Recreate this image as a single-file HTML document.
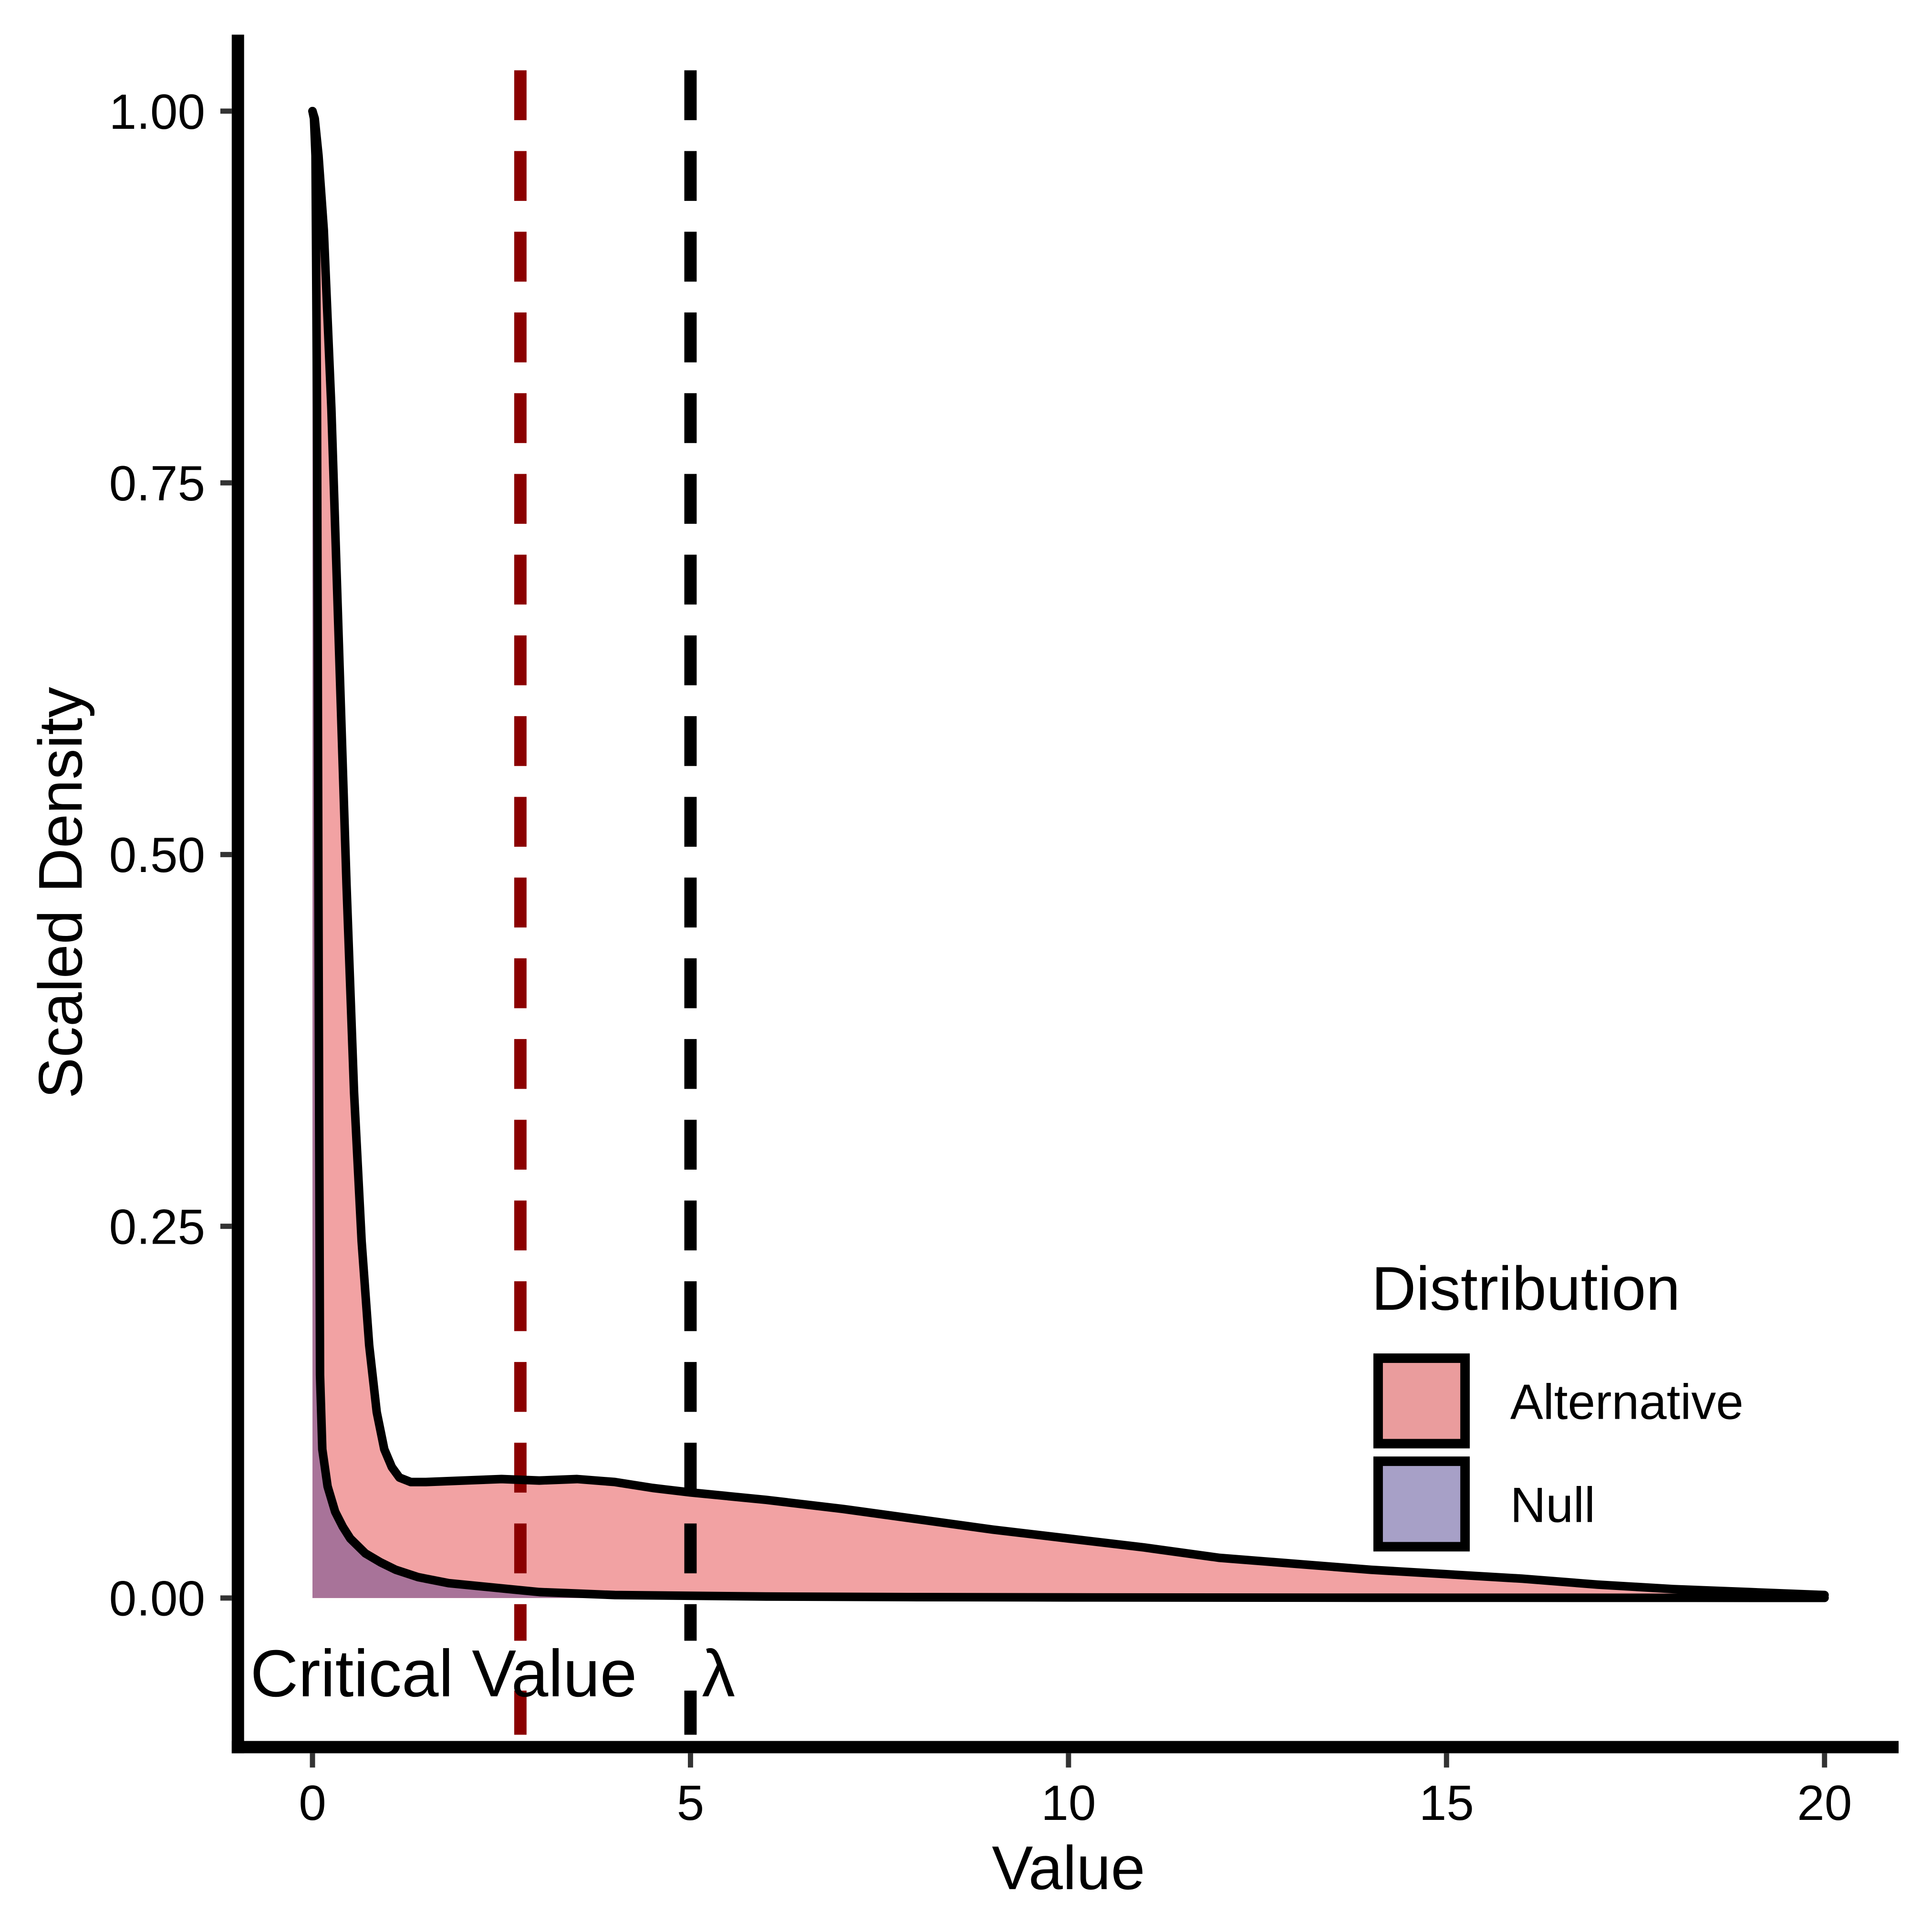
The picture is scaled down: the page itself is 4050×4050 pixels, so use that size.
<!DOCTYPE html>
<html><head><meta charset="utf-8"><style>
html,body{margin:0;padding:0;background:#fff;}
svg{display:block;}
text{font-family:"Liberation Sans",sans-serif;fill:#000;}
</style></head><body>
<svg id="chart" width="4050" height="4050" viewBox="0 0 4050 4050" xmlns="http://www.w3.org/2000/svg">
<rect width="4050" height="4050" fill="#fff"/>
<g id="plot" transform="scale(0.9955)"></g>
</svg>
<script>
const altX = [0,0.03,0.08,0.15,0.25,0.35,0.45,0.55,0.65,0.75,0.85,0.95,1.05,1.15,1.3,1.5,2,2.5,3,3.5,4,4.5,5,6,7,8,9,10,11,12,13,14,15,16,17,18,19,20];
const altY = [1.0,0.995,0.97,0.92,0.8,0.64,0.48,0.34,0.24,0.17,0.125,0.1,0.088,0.081,0.078,0.078,0.079,0.08,0.079,0.08,0.078,0.074,0.071,0.066,0.06,0.053,0.046,0.04,0.034,0.027,0.023,0.019,0.016,0.013,0.009,0.006,0.004,0.002];
const nullX = [0,0.02,0.04,0.06,0.08,0.1,0.13,0.2,0.3,0.4,0.5,0.7,0.9,1.1,1.4,1.8,2.2,2.6,3,3.5,4,5,6,8,10,14,20];
const nullY = [1.0,0.995,0.97,0.8,0.45,0.15,0.1,0.075,0.058,0.048,0.04,0.03,0.024,0.019,0.014,0.01,0.008,0.006,0.004,0.003,0.002,0.0015,0.001,0.0006,0.0004,0.0002,0.0001];
const xTicks = [0,5,10,15,20];
const xTickLabels = ["0","5","10","15","20"];
const yTicks = [0,0.25,0.5,0.75,1];
const yTickLabels = ["0.00","0.25","0.50","0.75","1.00"];
const criticalValue = 2.75;
const lambdaValue = 5;

const NS = "http://www.w3.org/2000/svg";
const g = document.getElementById('plot');
const sx = v => 658 + v * 159.2;
const sy = v => 3365 - v * 3131;
function el(tag, attrs, parent) {
  const e = document.createElementNS(NS, tag);
  for (const k in attrs) e.setAttribute(k, attrs[k]);
  (parent || g).appendChild(e);
  return e;
}
function areaPath(xs, ys) {
  let d = 'M' + sx(xs[0]) + ',' + sy(0);
  xs.forEach((x, i) => { d += ' L' + sx(x) + ',' + sy(ys[i]); });
  d += ' L' + sx(xs[xs.length - 1]) + ',' + sy(0) + ' Z';
  return d;
}
function linePath(xs, ys) {
  return xs.map((x, i) => (i ? 'L' : 'M') + sx(x) + ',' + sy(ys[i])).join(' ');
}

const altArea = el('path', {d: areaPath(altX, altY), fill: '#F2A2A3'});


const nullArea = el('path', {d: areaPath(nullX, nullY), fill: '#A87399'});



const crit = el('line', {x1: sx(criticalValue), x2: sx(criticalValue), y1: 148, y2: 3665, stroke: '#8B0000', 'stroke-width': 26, 'stroke-dasharray': '105,65'});


const lam = el('line', {x1: sx(lambdaValue), x2: sx(lambdaValue), y1: 148, y2: 3665, stroke: '#000', 'stroke-width': 26, 'stroke-dasharray': '105,65'});



const altLine = el('path', {d: linePath(altX, altY), fill: 'none', stroke: '#000', 'stroke-width': 18, 'stroke-linejoin': 'round', 'stroke-linecap': 'round'});


const nullLine = el('path', {d: linePath(nullX, nullY), fill: 'none', stroke: '#000', 'stroke-width': 18, 'stroke-linejoin': 'round', 'stroke-linecap': 'round'});



const bg1 = el('rect', {x: 520, y: 3455, width: 850, height: 105, fill: '#fff'});


const bg2 = el('rect', {x: 1400, y: 3455, width: 150, height: 105, fill: '#fff'});


const t1 = el('text', {x: 527, y: 3572, 'font-size': 140});
t1.textContent = 'Critical Value';


const t2 = el('text', {x: 1478, y: 3572, 'font-size': 140});
t2.textContent = 'λ';



const yAxis = el('line', {x1: 501, x2: 501, y1: 73, y2: 3692, stroke: '#000', 'stroke-width': 26});


const xAxis = el('line', {x1: 488, x2: 3998, y1: 3679, y2: 3679, stroke: '#000', 'stroke-width': 26});



yTicks.forEach((v, i) => {
  const tk = el('line', {x1: 464, x2: 488, y1: sy(v), y2: sy(v), stroke: '#333', 'stroke-width': 11});
  
  
  const lb = el('text', {x: 432, y: sy(v) + 37, 'font-size': 104, 'text-anchor': 'end'});
  lb.textContent = yTickLabels[i];
  
  
});
xTicks.forEach((v, i) => {
  const tk = el('line', {x1: sx(v), x2: sx(v), y1: 3692, y2: 3722, stroke: '#333', 'stroke-width': 11});
  
  
  const lb = el('text', {x: sx(v), y: 3832, 'font-size': 104, 'text-anchor': 'middle'});
  lb.textContent = xTickLabels[i];
  
  
});

const xt = el('text', {x: 2250, y: 3978, 'font-size': 130, 'text-anchor': 'middle'});
xt.textContent = 'Value';


const yt = el('text', {x: 0, y: 0, 'font-size': 130, 'text-anchor': 'middle', transform: 'translate(172,1880) rotate(-90)'});
yt.textContent = 'Scaled Density';



const lg = el('g', {});


const ltitle = el('text', {x: 2888, y: 2758, 'font-size': 130}, lg);
ltitle.textContent = 'Distribution';


const entries = [['Alternative', '#EA9C9D', 2860], ['Null', '#A7A0C7', 3077]];
entries.forEach(([name, col, y]) => {
  const r = el('rect', {x: 2902, y: y, width: 183, height: 180, fill: col, stroke: '#000', 'stroke-width': 20}, lg);
  
  
  const t = el('text', {x: 3180, y: y + 128, 'font-size': 104}, lg);
  t.textContent = name;
  
  
});
</script>
</body></html>
